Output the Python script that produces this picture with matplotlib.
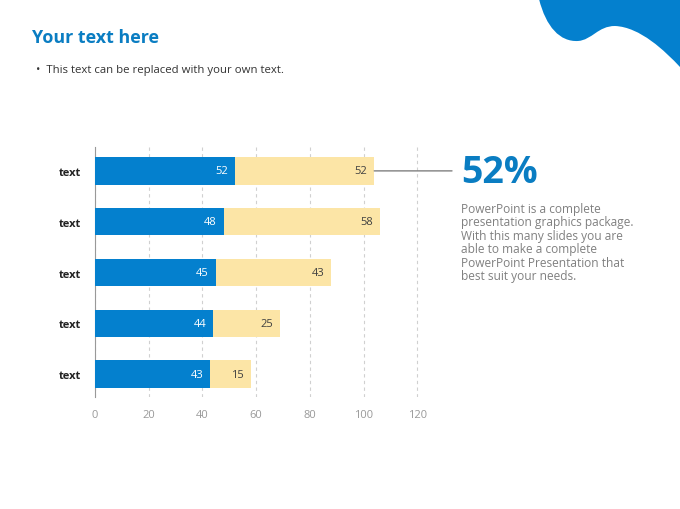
import matplotlib.pyplot as plt
from matplotlib.patches import PathPatch
from matplotlib.path import Path

categories = ["text", "text", "text", "text", "text"]
series_a = [43, 44, 45, 48, 52]
series_b = [15, 25, 43, 58, 52]
x_ticks = [0, 20, 40, 60, 80, 100, 120]
highlight = "52%"
blurb = ("PowerPoint is a complete\npresentation graphics package.\n"
         "With this many slides you are\nable to make a complete\n"
         "PowerPoint Presentation that\nbest suit your needs.")

BLUE = "#0480CE"
YELLOW = "#FCE5A6"
W, H = 680, 510

plt.rcParams['font.family'] = ['Open Sans', 'DejaVu Sans']
fig = plt.figure(figsize=(6.8, 5.1), dpi=100)

# decorative wave in the top-right corner (pixel coords -> figure fraction)
def px(x, y):
    return (x / W, 1 - y / H)

verts = [px(539, 0),
         px(546, 28), px(560, 43), px(578, 42),
         px(592, 41), px(598, 27), px(615, 27),
         px(640, 28), px(665, 52), px(680, 68),
         px(680, 0), px(539, 0)]
codes = [Path.MOVETO,
         Path.CURVE4, Path.CURVE4, Path.CURVE4,
         Path.CURVE4, Path.CURVE4, Path.CURVE4,
         Path.CURVE4, Path.CURVE4, Path.CURVE4,
         Path.LINETO, Path.CLOSEPOLY]
fig.patches.append(PathPatch(Path(verts, codes), transform=fig.transFigure,
                             facecolor=BLUE, edgecolor="none"))

fig.text(32 / W, 1 - 38 / H, "Your text here", fontsize=12.9, fontweight="bold",
         color="#0A7DC2", va="center", ha="left")
fig.text(36 / W, 1 - 71 / H, "•  This text can be replaced with your own text.",
         fontsize=8.2, color="#333333", va="center", ha="left")

# bar chart
left, right = 95 / W, (95 + 130 * 2.685) / W
top, bottom = 1 - 148 / H, 1 - 398 / H
ax = fig.add_axes([left, bottom, right - left, top - bottom])
y = list(range(len(categories)))
bars_a = ax.barh(y, series_a, height=0.54, color=BLUE, zorder=3)
bars_b = ax.barh(y, series_b, left=series_a, height=0.54, color=YELLOW, zorder=3)
a_labels = ax.bar_label(bars_a, labels=series_a, padding=-5, color="white", fontsize=8)
b_labels = ax.bar_label(bars_b, labels=series_b, padding=-5, color="#404040", fontsize=8)
for lbl in list(a_labels) + list(b_labels):
    lbl.set_horizontalalignment("right")

ax.set_xlim(0, 130)
ax.set_ylim(-0.45, 4.47)
ax.set_xticks(x_ticks)
ax.set_yticks(y)
ax.set_yticklabels(categories, fontweight="bold", fontsize=8, color="#222222")
ax.tick_params(axis="x", length=0, labelsize=8, labelcolor="#999999", pad=9)
ax.tick_params(axis="y", length=0, pad=10)
ax.grid(axis="x", linestyle=(0, (3, 3)), color="#D0D0D0", linewidth=0.8, zorder=0)
for s in ["top", "right", "bottom"]:
    ax.spines[s].set_visible(False)
ax.spines["left"].set_color("#999999")
ax.spines["left"].set_linewidth(0.8)

# leader line from the top bar to the callout
top_end = series_a[-1] + series_b[-1]
ax.annotate("", xy=(top_end, y[-1]), xytext=(452 / W, y[-1]),
            textcoords=("figure fraction", "data"),
            arrowprops=dict(arrowstyle="-", color="#808080", lw=1,
                            shrinkA=0, shrinkB=0))

fig.text(461 / W, 1 - 173 / H, highlight, fontsize=27, fontweight="bold",
         color="#0A7DC2", va="center", ha="left")
fig.text(461 / W, 1 - 203 / H, blurb, fontsize=8.6, color="#808080",
         va="top", ha="left", linespacing=1.05)

fig.savefig("out.png", dpi=100)
